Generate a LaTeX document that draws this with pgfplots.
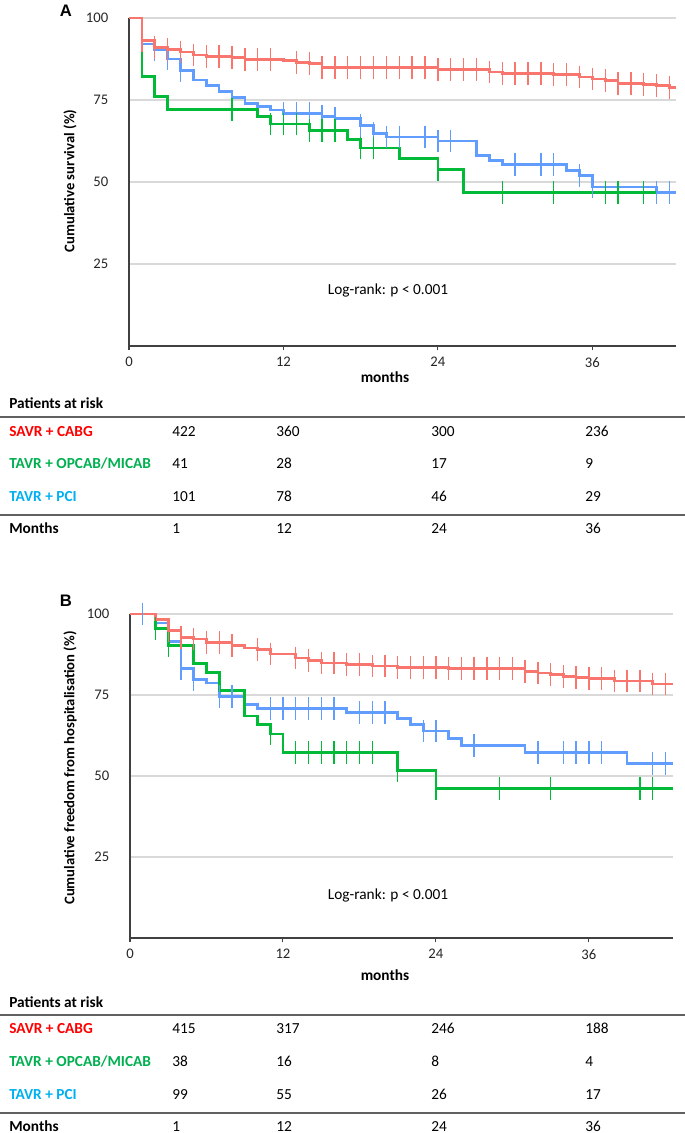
\documentclass[border=0pt]{standalone}
\usepackage{fontspec}
\setmainfont{Carlito}
\newfontfamily\panelfont{Liberation Sans}
\usepackage{pgfplots}
\pgfplotsset{compat=1.18}
\definecolor{kmred}{HTML}{F8766D}
\definecolor{kmgreen}{HTML}{00BA38}
\definecolor{kmblue}{HTML}{619CFF}
\definecolor{txtred}{HTML}{FF0000}
\definecolor{txtgreen}{HTML}{00B050}
\definecolor{txtblue}{HTML}{00B0F0}
\newcommand\tabf{\fontsize{11.5}{14}\selectfont}
\pgfplotsset{
  kmaxis/.style={
    scale only axis, xmin=0, ymin=0, ymax=100,
    axis x line=bottom, axis y line=left,
    axis line style={-, black!75, line width=1.1pt},
    xtick={0,12,24,36}, ytick={25,50,75,100},
    ymajorgrids, grid style={black!15, line width=1.1pt},
    y tick style={draw=none}, x tick style={black!75, line width=0.8pt},
    tick align=outside, major tick length=3pt,
    ticklabel style={font=\fontsize{11}{13}\selectfont, text=black!85},
    yticklabel style={xshift=-9pt},
    xticklabel style={yshift=-2pt},
    /pgf/number format/assume math mode=true,
    clip=false,
  },
  km/.style={const plot, line width=2pt, mark=none},
  cens/.style={only marks, mark=|, mark size=8.5pt, mark options={line width=1pt}},
}
\begin{document}
\begin{tikzpicture}
\useasboundingbox (0,0) rectangle (513.75pt,849.75pt);
% ---------------- Panel A ----------------
\begin{axis}[kmaxis, at={(96.75pt,590.25pt)}, anchor=south west,
  width=410.25pt, height=246pt, xmax=42.5]
\addplot[km, kmblue] coordinates {(0,100) (1,92.1) (2,90.3) (3,87.5) (4,84.0) (5,81.1) (6,79.4) (7,77.6) (8,75.7) (9,74.0) (10,73.0) (11,72.0) (12,70.8) (15,70.0) (16,69.3) (18,67.2) (19,64.7) (20,63.7) (24,62.5) (27,58.1) (28,56.6) (29,55.4) (34,53.6) (35,52.0) (36,48.5) (41,46.7) (42.5,46.7)};
\addplot[cens, kmblue] coordinates {(2,90.3) (3,87.5) (4,84.0) (12,70.8) (13,70.8) (14,70.8) (15,70.0) (16,69.3) (18,67.2) (19,64.7) (20,63.7) (21,63.7) (23,63.7) (24,62.5) (25,62.5) (30,55.4) (32,55.4) (33,55.4) (35,52.0) (36,48.5) (41,46.7) (42,46.7)};
\addplot[km, kmgreen] coordinates {(0,100) (1,82.2) (2,76.1) (3,72.1) (10,70.0) (11,67.7) (14,65.7) (17,62.9) (18,60.4) (21,57.1) (24,53.8) (26,46.8) (41,46.8)};
\addplot[cens, kmgreen] coordinates {(8,72.1) (11,67.7) (12,67.7) (13,67.7) (14,65.7) (15,65.7) (16,65.7) (18,60.4) (19,60.4) (24,53.8) (29,46.8) (33,46.8) (37,46.8) (38,46.8) (40,46.8)};
\addplot[km, kmred] coordinates {(0,100) (1,93.1) (2,91.1) (3,90.3) (4,89.6) (5,88.7) (6,88.2) (8,88.0) (9,87.3) (12,87.0) (13,86.5) (14,86.2) (15,85.0) (24,84.2) (28,83.5) (29,83.0) (33,82.7) (35,82.0) (36,81.4) (37,80.9) (38,80.1) (40,79.7) (41,79.4) (42,78.9) (42.5,78.9)};
\addplot[cens, kmred] coordinates {(1,93.1) (2,91.1) (3,90.3) (4,89.6) (5,88.7) (6,88.2) (7,88.2) (8,88.0) (9,87.3) (10,87.3) (11,87.3) (13,86.5) (14,86.2) (15,85.0) (16,85.0) (17,85.0) (18,85.0) (19,85.0) (20,85.0) (21,85.0) (22,85.0) (23,85.0) (24,84.2) (25,84.2) (26,84.2) (27,84.2) (28,83.5) (29,83.0) (30,83.0) (31,83.0) (32,83.0) (33,82.7) (34,82.7) (35,82.0) (36,81.4) (37,80.9) (38,80.1) (39,80.1) (40,79.7) (41,79.4) (42,78.9)};
\end{axis}
% ---------------- Panel B ----------------
\begin{axis}[kmaxis, at={(97.5pt,146.25pt)}, anchor=south west,
  width=407.25pt, height=243pt, xmax=42.6]
\addplot[km, kmblue] coordinates {(0,100) (2,97.2) (3,91.6) (4,83.2) (5,79.8) (6,78.7) (7,74.6) (9,72.1) (10,70.8) (17,69.5) (21,67.7) (22,65.9) (23,63.9) (25,61.5) (26,59.5) (31,57.2) (39,53.9) (42.6,53.9)};
\addplot[cens, kmblue] coordinates {(1,100) (4,83.2) (5,79.8) (7,74.6) (8,74.6) (11,70.8) (12,70.8) (13,70.8) (14,70.8) (15,70.8) (16,70.8) (18,69.5) (19,69.5) (20,69.5) (23,63.9) (24,63.9) (27,59.5) (32,57.2) (34,57.2) (35,57.2) (36,57.2) (37,57.2) (41,53.9) (42,53.9)};
\addplot[km, kmgreen] coordinates {(0,100) (2,95.5) (3,90.2) (5,84.7) (6,82.0) (7,76.4) (9,68.5) (10,65.9) (11,63.0) (12,57.2) (21,51.8) (24,46.2) (42.6,46.2)};
\addplot[cens, kmgreen] coordinates {(2,95.5) (3,90.2) (11,63.0) (13,57.2) (14,57.2) (15,57.2) (16,57.2) (17,57.2) (18,57.2) (19,57.2) (21,51.8) (24,46.2) (29,46.2) (33,46.2) (40,46.2) (41,46.2)};
\addplot[km, kmred] coordinates {(0,100) (2,98.3) (3,94.9) (4,92.8) (5,92.3) (6,91.3) (8,90.3) (9,89.5) (10,89.0) (11,87.7) (13,86.4) (14,85.6) (15,84.9) (17,84.4) (19,83.9) (21,83.5) (25,83.1) (31,82.3) (32,81.8) (33,81.3) (34,80.8) (35,80.5) (36,80.0) (38,79.3) (41,78.4) (42.6,78.4)};
\addplot[cens, kmred] coordinates {(3,94.9) (4,92.8) (5,92.3) (6,91.3) (7,91.3) (8,90.3) (10,89.0) (11,87.7) (13,86.4) (14,85.6) (15,84.9) (16,84.9) (17,84.4) (18,84.4) (19,83.9) (20,83.9) (21,83.5) (22,83.5) (23,83.5) (24,83.5) (25,83.1) (26,83.1) (27,83.1) (28,83.1) (29,83.1) (30,83.1) (31,82.3) (32,81.8) (33,81.3) (34,80.8) (35,80.5) (36,80.0) (37,80.0) (38,79.3) (39,79.3) (40,79.3) (41,78.4) (42,78.4)};
\end{axis}
% ---------------- Texts and tables ----------------
\begin{scope}[x=0.75pt,y=-0.75pt,yshift=849.75pt]
  % panel letters
  \node[font=\panelfont\bfseries\fontsize{12.5}{14}\selectfont, inner sep=0] at (66,11) {A};
  \node[font=\panelfont\bfseries\fontsize{12.5}{14}\selectfont, inner sep=0] at (66,601) {B};
  % y labels
  \node[rotate=90, font=\bfseries\fontsize{11}{13}\selectfont, inner sep=0] at (70,181) {Cumulative survival (\%)};
  \node[rotate=90, font=\bfseries\fontsize{11}{13}\selectfont, inner sep=0] at (70,768) {Cumulative freedom from hospitalisation (\%)};
  % x labels
  \node[font=\bfseries\tabf, inner sep=0, anchor=base] at (385,383) {months};
  \node[font=\bfseries\tabf, inner sep=0, anchor=base] at (385,981) {months};
  % log-rank
  \node[font=\tabf, inner sep=0] at (388,291) {Log-rank: p < 0.001};
  \node[font=\tabf, inner sep=0] at (388,895) {Log-rank: p < 0.001};
  % table A
  \node[font=\bfseries\tabf, inner sep=0, anchor=base west] at (9,409) {Patients at risk};
  \draw[black!62, line width=1.5pt] (0,417) -- (685,417);
  \draw[black!62, line width=1.5pt] (0,515) -- (685,515);
  \node[font=\bfseries\tabf, text=txtred, inner sep=0, anchor=base west] at (9,437) {SAVR + CABG};
  \node[font=\bfseries\tabf, text=txtgreen, inner sep=0, anchor=base west] at (9,469) {TAVR + OPCAB/MICAB};
  \node[font=\bfseries\tabf, text=txtblue, inner sep=0, anchor=base west] at (9,502) {TAVR + PCI};
  \node[font=\bfseries\tabf, inner sep=0, anchor=base west] at (9,534) {Months};
  \foreach \xx/\a/\b/\c/\d in {172/422/41/101/1, 276/360/28/78/12, 431/300/17/46/24, 585/236/9/29/36}{
    \node[font=\tabf, inner sep=0, anchor=base west] at (\xx,437) {\a};
    \node[font=\tabf, inner sep=0, anchor=base west] at (\xx,469) {\b};
    \node[font=\tabf, inner sep=0, anchor=base west] at (\xx,502) {\c};
    \node[font=\tabf, inner sep=0, anchor=base west] at (\xx,534) {\d};
  }
  % table B
  \node[font=\bfseries\tabf, inner sep=0, anchor=base west] at (9,1008) {Patients at risk};
  \draw[black!62, line width=1.5pt] (0,1015) -- (685,1015);
  \draw[black!62, line width=1.5pt] (0,1113) -- (685,1113);
  \node[font=\bfseries\tabf, text=txtred, inner sep=0, anchor=base west] at (9,1034) {SAVR + CABG};
  \node[font=\bfseries\tabf, text=txtgreen, inner sep=0, anchor=base west] at (9,1067) {TAVR + OPCAB/MICAB};
  \node[font=\bfseries\tabf, text=txtblue, inner sep=0, anchor=base west] at (9,1100) {TAVR + PCI};
  \node[font=\bfseries\tabf, inner sep=0, anchor=base west] at (9,1131) {Months};
  \foreach \xx/\a/\b/\c/\d in {172/415/38/99/1, 276/317/16/55/12, 431/246/8/26/24, 585/188/4/17/36}{
    \node[font=\tabf, inner sep=0, anchor=base west] at (\xx,1034) {\a};
    \node[font=\tabf, inner sep=0, anchor=base west] at (\xx,1067) {\b};
    \node[font=\tabf, inner sep=0, anchor=base west] at (\xx,1100) {\c};
    \node[font=\tabf, inner sep=0, anchor=base west] at (\xx,1131) {\d};
  }
\end{scope}
\end{tikzpicture}
\end{document}
